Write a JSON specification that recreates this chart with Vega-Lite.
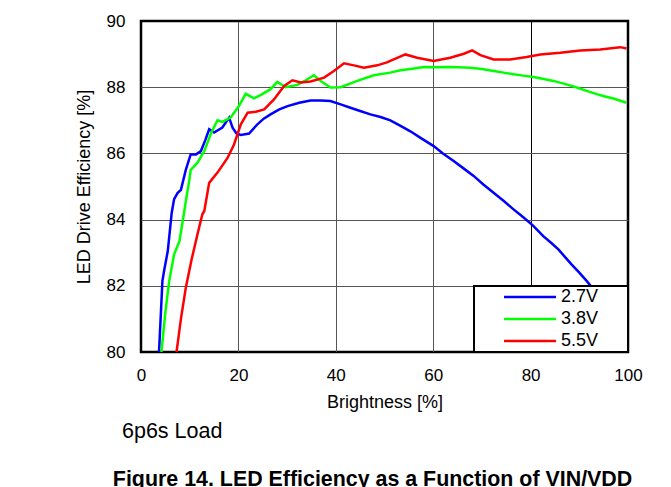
{
  "$schema": "https://vega.github.io/schema/vega-lite/v6.json",
  "autosize": {"type": "pad"},
  "padding": {"left": 73, "top": 10, "right": 29, "bottom": 0},
  "background": "white",
  "resolve": {"legend": {"color": "independent"}},
  "title": {
    "text": "Figure 14. LED Efficiency as a Function of VIN/VDD",
    "orient": "bottom",
    "anchor": "start",
    "frame": "bounds",
    "font": "Liberation Sans",
    "fontSize": 21.4,
    "fontWeight": "bold",
    "color": "black",
    "offset": 25,
    "dx": 39
  },
  "vconcat": [
    {
      "width": 487,
      "height": 331,
      "title": {
        "text": "6p6s Load",
        "orient": "bottom",
        "anchor": "start",
        "frame": "group",
        "font": "Liberation Sans",
        "fontSize": 21.5,
        "fontWeight": "normal",
        "color": "black",
        "offset": 10,
        "dx": -19
      },
      "data": {
        "values": [
          {"b": 3.7, "e": 80.0, "s": "2.7V"},
          {"b": 4.4, "e": 82.15, "s": "2.7V"},
          {"b": 4.8, "e": 82.5, "s": "2.7V"},
          {"b": 5.5, "e": 83.05, "s": "2.7V"},
          {"b": 6.3, "e": 84.2, "s": "2.7V"},
          {"b": 6.8, "e": 84.62, "s": "2.7V"},
          {"b": 7.5, "e": 84.8, "s": "2.7V"},
          {"b": 8.2, "e": 84.9, "s": "2.7V"},
          {"b": 9.2, "e": 85.5, "s": "2.7V"},
          {"b": 10.2, "e": 85.97, "s": "2.7V"},
          {"b": 11.3, "e": 85.97, "s": "2.7V"},
          {"b": 12.3, "e": 86.07, "s": "2.7V"},
          {"b": 13.2, "e": 86.4, "s": "2.7V"},
          {"b": 14.0, "e": 86.73, "s": "2.7V"},
          {"b": 15.0, "e": 86.63, "s": "2.7V"},
          {"b": 16.7, "e": 86.78, "s": "2.7V"},
          {"b": 18.1, "e": 87.08, "s": "2.7V"},
          {"b": 18.8, "e": 86.78, "s": "2.7V"},
          {"b": 19.6, "e": 86.6, "s": "2.7V"},
          {"b": 20.5, "e": 86.56, "s": "2.7V"},
          {"b": 22.2, "e": 86.6, "s": "2.7V"},
          {"b": 23.9, "e": 86.88, "s": "2.7V"},
          {"b": 25.2, "e": 87.05, "s": "2.7V"},
          {"b": 26.6, "e": 87.18, "s": "2.7V"},
          {"b": 28.4, "e": 87.33, "s": "2.7V"},
          {"b": 30.1, "e": 87.43, "s": "2.7V"},
          {"b": 32.5, "e": 87.53, "s": "2.7V"},
          {"b": 34.8, "e": 87.6, "s": "2.7V"},
          {"b": 36.9, "e": 87.6, "s": "2.7V"},
          {"b": 38.9, "e": 87.58, "s": "2.7V"},
          {"b": 41.0, "e": 87.48, "s": "2.7V"},
          {"b": 43.0, "e": 87.38, "s": "2.7V"},
          {"b": 45.0, "e": 87.28, "s": "2.7V"},
          {"b": 47.1, "e": 87.18, "s": "2.7V"},
          {"b": 49.2, "e": 87.1, "s": "2.7V"},
          {"b": 51.2, "e": 87.0, "s": "2.7V"},
          {"b": 53.3, "e": 86.83, "s": "2.7V"},
          {"b": 55.4, "e": 86.66, "s": "2.7V"},
          {"b": 57.4, "e": 86.47, "s": "2.7V"},
          {"b": 60.1, "e": 86.22, "s": "2.7V"},
          {"b": 62.0, "e": 86.0, "s": "2.7V"},
          {"b": 64.2, "e": 85.77, "s": "2.7V"},
          {"b": 66.3, "e": 85.54, "s": "2.7V"},
          {"b": 68.3, "e": 85.32, "s": "2.7V"},
          {"b": 70.3, "e": 85.06, "s": "2.7V"},
          {"b": 72.4, "e": 84.81, "s": "2.7V"},
          {"b": 74.5, "e": 84.56, "s": "2.7V"},
          {"b": 76.5, "e": 84.31, "s": "2.7V"},
          {"b": 78.5, "e": 84.07, "s": "2.7V"},
          {"b": 80.5, "e": 83.82, "s": "2.7V"},
          {"b": 82.6, "e": 83.5, "s": "2.7V"},
          {"b": 84.2, "e": 83.3, "s": "2.7V"},
          {"b": 85.7, "e": 83.1, "s": "2.7V"},
          {"b": 87.0, "e": 82.88, "s": "2.7V"},
          {"b": 88.4, "e": 82.65, "s": "2.7V"},
          {"b": 90.0, "e": 82.4, "s": "2.7V"},
          {"b": 91.5, "e": 82.15, "s": "2.7V"},
          {"b": 94.0, "e": 81.7, "s": "2.7V"},
          {"b": 97.0, "e": 81.2, "s": "2.7V"},
          {"b": 100.0, "e": 80.6, "s": "2.7V"},

          {"b": 4.2, "e": 80.0, "s": "3.8V"},
          {"b": 5.0, "e": 81.2, "s": "3.8V"},
          {"b": 5.8, "e": 82.15, "s": "3.8V"},
          {"b": 6.8, "e": 82.95, "s": "3.8V"},
          {"b": 7.9, "e": 83.35, "s": "3.8V"},
          {"b": 8.9, "e": 84.26, "s": "3.8V"},
          {"b": 9.2, "e": 84.56, "s": "3.8V"},
          {"b": 9.9, "e": 85.17, "s": "3.8V"},
          {"b": 10.2, "e": 85.5, "s": "3.8V"},
          {"b": 11.6, "e": 85.72, "s": "3.8V"},
          {"b": 13.0, "e": 86.07, "s": "3.8V"},
          {"b": 14.3, "e": 86.58, "s": "3.8V"},
          {"b": 15.7, "e": 87.0, "s": "3.8V"},
          {"b": 16.7, "e": 86.95, "s": "3.8V"},
          {"b": 18.4, "e": 87.08, "s": "3.8V"},
          {"b": 20.1, "e": 87.43, "s": "3.8V"},
          {"b": 21.5, "e": 87.8, "s": "3.8V"},
          {"b": 23.2, "e": 87.66, "s": "3.8V"},
          {"b": 24.9, "e": 87.79, "s": "3.8V"},
          {"b": 26.6, "e": 87.94, "s": "3.8V"},
          {"b": 28.0, "e": 88.16, "s": "3.8V"},
          {"b": 29.7, "e": 88.0, "s": "3.8V"},
          {"b": 32.1, "e": 88.07, "s": "3.8V"},
          {"b": 34.2, "e": 88.24, "s": "3.8V"},
          {"b": 35.5, "e": 88.36, "s": "3.8V"},
          {"b": 36.9, "e": 88.19, "s": "3.8V"},
          {"b": 38.9, "e": 87.99, "s": "3.8V"},
          {"b": 41.0, "e": 88.0, "s": "3.8V"},
          {"b": 44.4, "e": 88.19, "s": "3.8V"},
          {"b": 47.8, "e": 88.36, "s": "3.8V"},
          {"b": 51.2, "e": 88.44, "s": "3.8V"},
          {"b": 53.3, "e": 88.51, "s": "3.8V"},
          {"b": 55.7, "e": 88.56, "s": "3.8V"},
          {"b": 58.1, "e": 88.61, "s": "3.8V"},
          {"b": 60.5, "e": 88.6, "s": "3.8V"},
          {"b": 62.8, "e": 88.61, "s": "3.8V"},
          {"b": 65.2, "e": 88.6, "s": "3.8V"},
          {"b": 67.6, "e": 88.59, "s": "3.8V"},
          {"b": 70.0, "e": 88.55, "s": "3.8V"},
          {"b": 72.4, "e": 88.49, "s": "3.8V"},
          {"b": 74.5, "e": 88.44, "s": "3.8V"},
          {"b": 76.5, "e": 88.39, "s": "3.8V"},
          {"b": 78.5, "e": 88.35, "s": "3.8V"},
          {"b": 80.6, "e": 88.31, "s": "3.8V"},
          {"b": 82.7, "e": 88.25, "s": "3.8V"},
          {"b": 84.7, "e": 88.19, "s": "3.8V"},
          {"b": 87.0, "e": 88.1, "s": "3.8V"},
          {"b": 89.5, "e": 87.99, "s": "3.8V"},
          {"b": 91.5, "e": 87.89, "s": "3.8V"},
          {"b": 93.6, "e": 87.79, "s": "3.8V"},
          {"b": 95.3, "e": 87.72, "s": "3.8V"},
          {"b": 97.0, "e": 87.66, "s": "3.8V"},
          {"b": 99.7, "e": 87.53, "s": "3.8V"},

          {"b": 7.3, "e": 80.0, "s": "5.5V"},
          {"b": 8.2, "e": 81.0, "s": "5.5V"},
          {"b": 9.2, "e": 81.94, "s": "5.5V"},
          {"b": 10.4, "e": 82.8, "s": "5.5V"},
          {"b": 11.6, "e": 83.56, "s": "5.5V"},
          {"b": 12.6, "e": 84.16, "s": "5.5V"},
          {"b": 13.0, "e": 84.26, "s": "5.5V"},
          {"b": 14.0, "e": 85.11, "s": "5.5V"},
          {"b": 15.7, "e": 85.42, "s": "5.5V"},
          {"b": 17.8, "e": 85.87, "s": "5.5V"},
          {"b": 19.1, "e": 86.27, "s": "5.5V"},
          {"b": 20.5, "e": 86.88, "s": "5.5V"},
          {"b": 21.9, "e": 87.23, "s": "5.5V"},
          {"b": 23.6, "e": 87.26, "s": "5.5V"},
          {"b": 25.3, "e": 87.33, "s": "5.5V"},
          {"b": 27.3, "e": 87.63, "s": "5.5V"},
          {"b": 29.4, "e": 88.04, "s": "5.5V"},
          {"b": 31.1, "e": 88.21, "s": "5.5V"},
          {"b": 32.8, "e": 88.14, "s": "5.5V"},
          {"b": 34.8, "e": 88.17, "s": "5.5V"},
          {"b": 37.6, "e": 88.29, "s": "5.5V"},
          {"b": 39.6, "e": 88.49, "s": "5.5V"},
          {"b": 41.7, "e": 88.72, "s": "5.5V"},
          {"b": 43.7, "e": 88.66, "s": "5.5V"},
          {"b": 45.8, "e": 88.59, "s": "5.5V"},
          {"b": 48.5, "e": 88.66, "s": "5.5V"},
          {"b": 50.5, "e": 88.75, "s": "5.5V"},
          {"b": 51.9, "e": 88.84, "s": "5.5V"},
          {"b": 54.3, "e": 88.99, "s": "5.5V"},
          {"b": 56.7, "e": 88.89, "s": "5.5V"},
          {"b": 60.1, "e": 88.79, "s": "5.5V"},
          {"b": 63.5, "e": 88.89, "s": "5.5V"},
          {"b": 66.3, "e": 89.01, "s": "5.5V"},
          {"b": 68.0, "e": 89.11, "s": "5.5V"},
          {"b": 69.7, "e": 88.97, "s": "5.5V"},
          {"b": 72.4, "e": 88.84, "s": "5.5V"},
          {"b": 75.8, "e": 88.84, "s": "5.5V"},
          {"b": 79.2, "e": 88.91, "s": "5.5V"},
          {"b": 82.0, "e": 88.99, "s": "5.5V"},
          {"b": 86.1, "e": 89.04, "s": "5.5V"},
          {"b": 90.2, "e": 89.11, "s": "5.5V"},
          {"b": 94.3, "e": 89.14, "s": "5.5V"},
          {"b": 98.4, "e": 89.21, "s": "5.5V"},
          {"b": 99.7, "e": 89.17, "s": "5.5V"}
        ]
      },
      "mark": {"type": "line", "strokeWidth": 2.5, "clip": true},
      "encoding": {
        "x": {
          "field": "b",
          "type": "quantitative",
          "scale": {"domain": [0, 100], "nice": false},
          "axis": {
            "values": [0, 20, 40, 60, 80, 100],
            "title": "Brightness [%]",
            "labelFlush": false,
            "labelPadding": 15,
            "titlePadding": 10
          }
        },
        "y": {
          "field": "e",
          "type": "quantitative",
          "scale": {"domain": [80, 90], "nice": false, "zero": false},
          "axis": {
            "values": [80, 82, 84, 86, 88, 90],
            "title": "LED Drive Efficiency [%]",
            "labelFlush": false,
            "labelPadding": 16,
            "titlePadding": 13
          }
        },
        "color": {
          "field": "s",
          "type": "nominal",
          "scale": {"domain": ["2.7V", "3.8V", "5.5V"], "range": ["#0000ff", "#00ff00", "#ff0000"]},
          "legend": {
            "title": null,
            "orient": "bottom-right",
            "offset": 0,
            "padding": 2,
            "fillColor": "white",
            "strokeColor": "black",
            "symbolType": "M-10,0H10M35,0",
            "symbolSize": 27,
            "symbolStrokeWidth": 2.5,
            "symbolOffset": 45,
            "labelOffset": 22,
            "labelFontSize": 18,
            "labelFont": "Liberation Sans",
            "labelColor": "black",
            "rowPadding": 4
          }
        }
      }
    }
  ],
  "config": {
    "view": {"stroke": "black", "strokeWidth": 2.5},
    "legend": {"strokeWidth": 2},
    "axis": {
      "grid": true,
      "gridColor": {"condition": {"test": "datum.value == 0 || datum.value == 100 || datum.value == 80 || datum.value == 90", "value": "black"}, "value": "#555555"},
      "gridWidth": 1,
      "gridOpacity": 1,
      "ticks": false,
      "domain": false,
      "labelFont": "Liberation Sans",
      "labelFontSize": 17,
      "labelColor": "black",
      "titleFont": "Liberation Sans",
      "titleFontSize": 18,
      "titleFontWeight": "normal",
      "titleColor": "black"
    }
  }
}
